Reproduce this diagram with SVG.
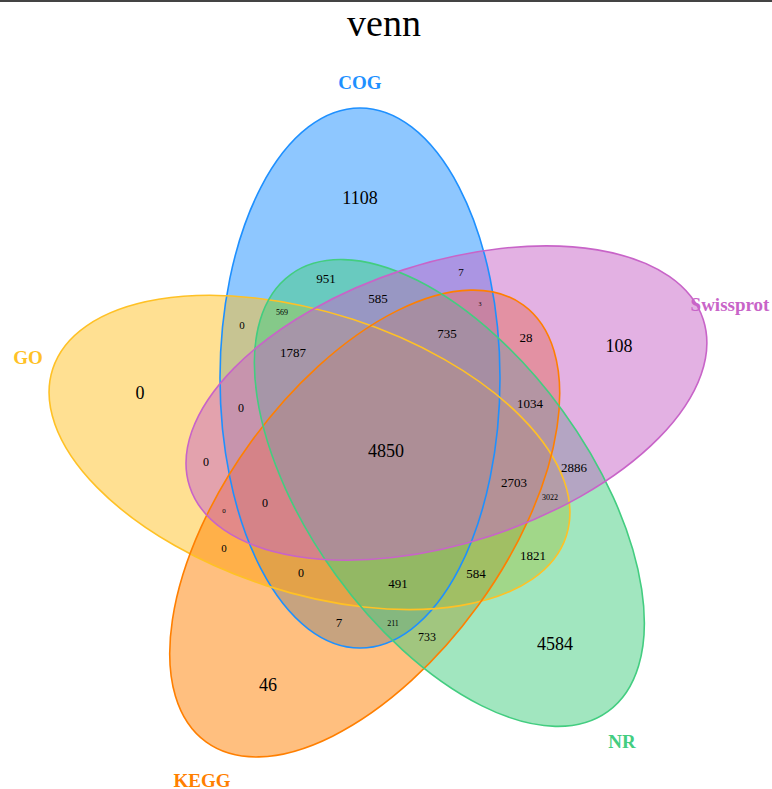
<svg xmlns="http://www.w3.org/2000/svg" xmlns:xlink="http://www.w3.org/1999/xlink" width="772" height="789" viewBox="0 0 772 789">
<style>
.f{fill-opacity:0.5;stroke:none}
.o{fill:none;stroke-width:1.6}
.n{font-family:"Liberation Serif","Times New Roman",serif;fill:#000;text-anchor:middle;dominant-baseline:central}
.l{font-family:"Liberation Serif","Times New Roman",serif;font-weight:bold;text-anchor:middle;dominant-baseline:central;font-size:19px}
.big{font-size:18px}.mid{font-size:13px}.sm{font-size:8px}
</style>
<defs>
<ellipse id="shape" cx="360" cy="378" rx="140" ry="270"/>
</defs>
<rect width="772" height="789" fill="#fff"/>
<line x1="0" y1="1" x2="772" y2="1" stroke="#444" stroke-width="2"/>
<text x="384" y="23" class="n" style="font-size:38px">venn</text>
<g id="fills">
<g id="COG"><use href="#shape" xlink:href="#shape" class="f" fill="#1E90FF"/></g>
<g id="GO"><use href="#shape" xlink:href="#shape" class="f" fill="#FFC125" transform="rotate(288 386 450)"/></g>
<g id="KEGG"><use href="#shape" xlink:href="#shape" class="f" fill="#FF7F00" transform="rotate(216 386 450)"/></g>
<g id="NR"><use href="#shape" xlink:href="#shape" class="f" fill="#43CD80" transform="rotate(144 386 450)"/></g>
<g id="Swissprot"><use href="#shape" xlink:href="#shape" class="f" fill="#C864C8" transform="rotate(72 386 450)"/></g>
</g>
<g id="outlines">
<use href="#shape" xlink:href="#shape" class="o" stroke="#1E90FF"/>
<use href="#shape" xlink:href="#shape" class="o" stroke="#FFC125" transform="rotate(288 386 450)"/>
<use href="#shape" xlink:href="#shape" class="o" stroke="#FF7F00" transform="rotate(216 386 450)"/>
<use href="#shape" xlink:href="#shape" class="o" stroke="#43CD80" transform="rotate(144 386 450)"/>
<use href="#shape" xlink:href="#shape" class="o" stroke="#C864C8" transform="rotate(72 386 450)"/>
</g>
<g id="labels">
<text x="730" y="304" class="l" fill="#C864C8">Swissprot</text>
<text x="360" y="82" class="l" fill="#1E90FF">COG</text>
<text x="28" y="357" class="l" fill="#FFC125">GO</text>
<text x="622" y="741" class="l" fill="#43CD80">NR</text>
<text x="202" y="780" class="l" fill="#FF7F00">KEGG</text>
</g>
<g id="counts">
<text x="360" y="198" class="n big">1108</text>
<text x="326" y="278" class="n mid">951</text>
<text x="461" y="272" class="n" style="font-size:11px">7</text>
<text x="378" y="298" class="n mid">585</text>
<text x="282" y="312" class="n sm">569</text>
<text x="480" y="304" class="n" style="font-size:6px">3</text>
<text x="447" y="333" class="n mid">735</text>
<text x="526" y="337" class="n mid">28</text>
<text x="242" y="325" class="n" style="font-size:11px">0</text>
<text x="293" y="352" class="n mid">1787</text>
<text x="619" y="346" class="n big">108</text>
<text x="140" y="393" class="n big">0</text>
<text x="241" y="408" class="n" style="font-size:12px">0</text>
<text x="530" y="403" class="n mid">1034</text>
<text x="386" y="451" class="n big">4850</text>
<text x="206" y="462" class="n" style="font-size:12px">0</text>
<text x="574" y="467" class="n mid">2886</text>
<text x="514" y="482" class="n mid">2703</text>
<text x="550" y="497" class="n sm">3022</text>
<text x="265" y="503" class="n" style="font-size:12px">0</text>
<text x="224" y="511" class="n" style="font-size:7px">0</text>
<text x="224" y="548" class="n" style="font-size:11px">0</text>
<text x="533" y="555" class="n mid">1821</text>
<text x="301" y="573" class="n" style="font-size:12px">0</text>
<text x="476" y="573" class="n mid">584</text>
<text x="398" y="583" class="n mid">491</text>
<text x="339" y="622" class="n mid">7</text>
<text x="393" y="623" class="n sm">211</text>
<text x="427" y="637" class="n" style="font-size:12px">733</text>
<text x="555" y="644" class="n big">4584</text>
<text x="268" y="685" class="n big">46</text>
</g>
</svg>
